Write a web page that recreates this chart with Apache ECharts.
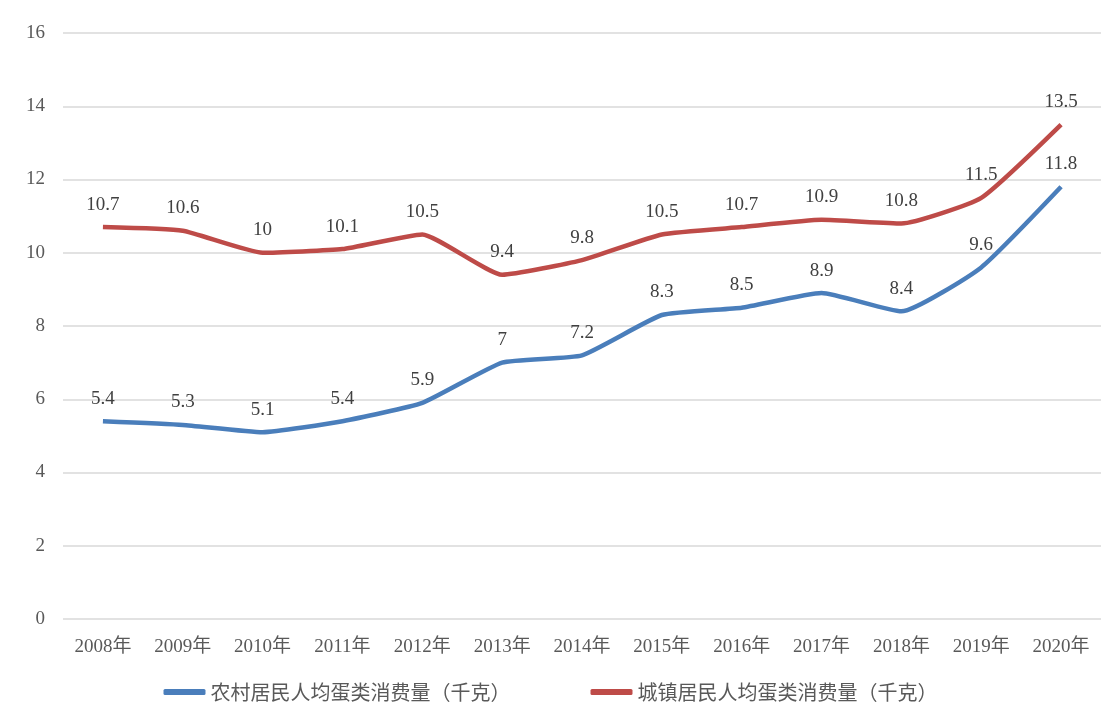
<!DOCTYPE html>
<html style="height: 100%">
<head>
<meta charset="utf-8">
</head>
<body style="height: 100%; margin: 0; background: #fff">
<div id="container" style="height: 100%"></div>
<script type="text/javascript" src="https://cdn.jsdelivr.net/npm/echarts@6/dist/echarts.min.js"></script>
<script type="text/javascript">
var years = ['2008年', '2009年', '2010年', '2011年', '2012年', '2013年', '2014年',
	'2015年', '2016年', '2017年', '2018年', '2019年', '2020年'];
var rural = [5.4, 5.3, 5.1, 5.4, 5.9, 7, 7.2, 8.3, 8.5, 8.9, 8.4, 9.6, 11.8];
var urban = [10.7, 10.6, 10, 10.1, 10.5, 9.4, 9.8, 10.5, 10.7, 10.9, 10.8, 11.5, 13.5];
var ruralName = '农村居民人均蛋类消费量（千克）';
var urbanName = '城镇居民人均蛋类消费量（千克）';

var dom = document.getElementById('container');
var myChart = echarts.init(dom);
var serif = '"Liberation Serif", "Noto Sans CJK SC", serif';

var labelStyle = {
	show: true,
	position: 'top',
	distance: 13,
	fontSize: 19,
	fontFamily: serif,
	color: '#404040'
};

var option = {
	animation: false,
	grid: {
		left: 63,
		width: 1040,
		top: 33,
		height: 586,
		containLabel: false
	},
	legend: {
		top: 677,
		left: 'center',
		itemWidth: 42,
		itemHeight: 6,
		itemGap: 80,
		icon: 'roundRect',
		textStyle: {
			fontFamily: '"Noto Sans CJK SC", serif',
			fontSize: 20,
			color: '#595959'
		},
		data: [ruralName, urbanName]
	},
	xAxis: {
		type: 'category',
		data: years,
		axisLine: { show: false },
		axisTick: { show: false },
		axisLabel: {
			margin: 19,
			fontSize: 19,
			fontFamily: serif,
			color: '#595959'
		}
	},
	yAxis: {
		type: 'value',
		min: 0,
		max: 16,
		interval: 2,
		axisLabel: {
			margin: 18,
			fontSize: 19,
			fontFamily: serif,
			color: '#595959'
		},
		splitLine: { lineStyle: { color: '#d9d9d9', width: 1.5 } }
	},
	series: [{
			name: ruralName,
			type: 'line',
			data: rural,
			smooth: 0.15,
			symbol: 'circle',
			symbolSize: 0,
			color: '#4a7ebb',
			lineStyle: { width: 4.5 },
			label: labelStyle
		},
		{
			name: urbanName,
			type: 'line',
			data: urban,
			smooth: 0.15,
			symbol: 'circle',
			symbolSize: 0,
			color: '#be4b48',
			lineStyle: { width: 4.5 },
			label: labelStyle
		}
	]
};

myChart.setOption(option);
</script>
</body>
</html>
